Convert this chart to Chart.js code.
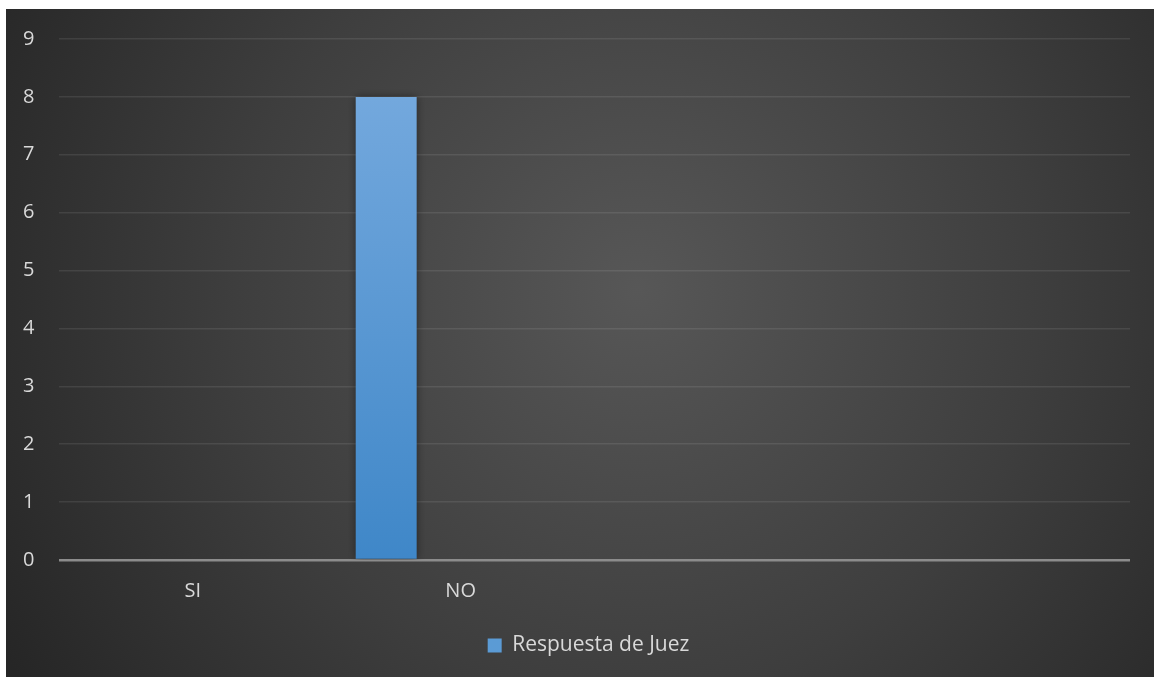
<!DOCTYPE html>
<html>
<head>
<meta charset="utf-8">
<script src="https://cdn.jsdelivr.net/npm/chart.js@4/dist/chart.umd.min.js"></script>
<style>
  html, body { margin: 0; padding: 0; background: #ffffff; }
  #wrap { position: absolute; left: 6px; top: 9px; width: 1148px; height: 668px; }
  canvas { display: block; }
</style>
</head>
<body>
<div id="wrap"><canvas id="chart" width="1148" height="668"></canvas></div>
<script>
// Category labels (the last two columns of the sheet are empty)
const categories = ['SI', 'NO', '', ''];
// Judge responses per category
const respuestaJuez = [0, 8, null, null];
// Empty companion series that share the cluster with the judge series
const serieVacia2 = [null, null, null, null];
const serieVacia3 = [null, null, null, null];
// Value axis ticks
const yTicks = [0, 1, 2, 3, 4, 5, 6, 7, 8, 9];

const FONT = '"Open Sans", "DejaVu Sans", sans-serif';
const TEXT = '#d9d9d9';

// Dark radial background behind the whole chart
const backgroundPlugin = {
  id: 'darkBackground',
  beforeDraw(chart) {
    const { ctx, width, height } = chart;
    const cx = width * 0.55, cy = height * 0.42;
    const g = ctx.createRadialGradient(cx, cy, 0, cx, cy, Math.hypot(width, height) * 0.55);
    g.addColorStop(0, '#575757');
    g.addColorStop(0.55, '#3e3e3e');
    g.addColorStop(1, '#262626');
    ctx.save();
    ctx.fillStyle = g;
    ctx.fillRect(0, 0, width, height);
    ctx.restore();
  }
};

// Soft shadow around the bars
const barShadowPlugin = {
  id: 'barShadow',
  beforeDatasetsDraw(chart) {
    const ctx = chart.ctx;
    ctx.save();
    ctx.shadowColor = 'rgba(0,0,0,0.45)';
    ctx.shadowBlur = 8;
    ctx.shadowOffsetX = 0;
    ctx.shadowOffsetY = 0;
  },
  afterDatasetsDraw(chart) {
    chart.ctx.restore();
  }
};

function barGradient(context) {
  const { chart } = context;
  const area = chart.chartArea;
  if (!area) return '#5b9bd5';
  const yTop = chart.scales.y.getPixelForValue(8);
  const y0 = chart.scales.y.getPixelForValue(0);
  const g = chart.ctx.createLinearGradient(0, yTop, 0, y0);
  g.addColorStop(0, '#73a8dd');
  g.addColorStop(1, '#3f87c8');
  return g;
}

new Chart(document.getElementById('chart'), {
  type: 'bar',
  data: {
    labels: categories,
    datasets: [
      { label: 'Respuesta de Juez', data: respuestaJuez, backgroundColor: barGradient, borderWidth: 0 },
      { label: 'Serie 2', data: serieVacia2, backgroundColor: '#a5a5a5', borderWidth: 0 },
      { label: 'Serie 3', data: serieVacia3, backgroundColor: '#ffc000', borderWidth: 0 }
    ]
  },
  options: {
    responsive: false,
    animation: false,
    devicePixelRatio: 1,
    layout: { padding: { top: 30, right: 0, left: 17, bottom: 11 } },
    datasets: {
      bar: { categoryPercentage: 0.834, barPercentage: 0.819 }
    },
    scales: {
      x: {
        grid: { display: false, drawTicks: false },
        border: { display: false },
        ticks: { color: TEXT, font: { family: FONT, size: 20 }, padding: 19, maxRotation: 0, autoSkip: false },
        afterFit(scale) { scale.height = 65; }
      },
      y: {
        min: 0,
        max: 9,
        afterBuildTicks(scale) { scale.ticks = yTicks.map(v => ({ value: v })); },
        grid: {
          drawTicks: false,
          lineWidth: (c) => c.tick && c.tick.value === 0 ? 2.5 : 1.5,
          color: (c) => c.tick && c.tick.value === 0 ? '#8c8c8c' : 'rgba(255,255,255,0.09)'
        },
        border: { display: false },
        ticks: { color: TEXT, font: { family: FONT, size: 20 }, padding: 0, crossAlign: 'far' },
        afterFit(scale) { scale.width = 36; }
      },
      // blank margin on the right of the plot
      yMargin: {
        position: 'right',
        display: true,
        grid: { display: false, drawTicks: false },
        border: { display: false },
        ticks: { display: false },
        afterFit(scale) { scale.width = 24; }
      }
    },
    plugins: {
      legend: {
        position: 'bottom',
        labels: {
          color: TEXT,
          font: { family: FONT, size: 21 },
          boxWidth: 14,
          boxHeight: 14,
          padding: 10,
          filter: (item) => item.datasetIndex === 0,
          generateLabels(chart) {
            const items = Chart.defaults.plugins.legend.labels.generateLabels(chart);
            items.forEach(it => { it.fillStyle = '#5b9bd5'; it.strokeStyle = 'rgba(0,0,0,0)'; it.lineWidth = 0; });
            return items;
          }
        }
      },
      tooltip: { enabled: false }
    }
  },
  plugins: [backgroundPlugin, barShadowPlugin]
});
</script>
</body>
</html>
